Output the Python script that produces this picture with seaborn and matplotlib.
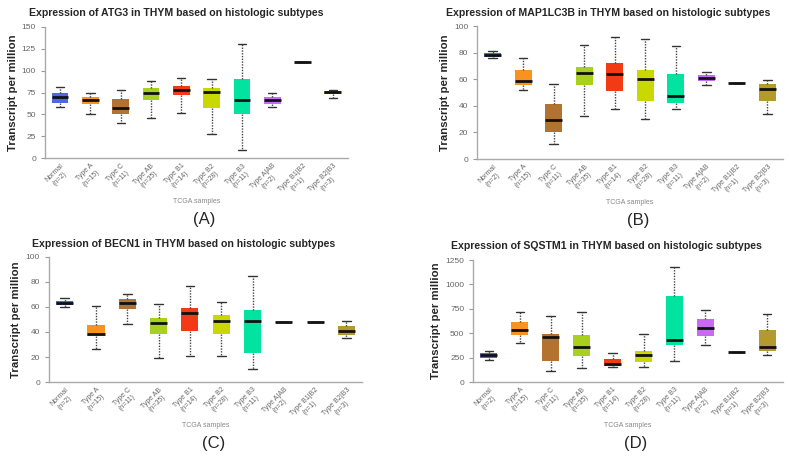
import numpy as np
import pandas as pd
import seaborn as sns
import matplotlib.pyplot as plt

# groups on the x axis
groups = ["Normal", "Type A", "Type C", "Type AB", "Type B1", "Type B2",
          "Type B3", "Type A|AB", "Type B1|B2", "Type B2|B3"]
counts = [2, 15, 11, 35, 14, 28, 11, 2, 1, 3]

# five-number summaries: min, q1, median, q3, max
atg3 = [[58, 63, 70, 75, 81], [51, 62, 67, 70, 74], [40, 50, 57, 68, 78],
        [46, 66, 74, 80, 88], [52, 72, 78, 82, 92], [28, 57, 76, 80, 91],
        [9, 50, 66, 91, 130], [59, 62, 66, 70, 74], [110],
        [69, 73, 75.5, 77, 78]]
map1lc3b = [[76, 77, 78.5, 79.5, 81], [52, 56, 58.5, 67, 76],
            [11, 20, 29, 41.5, 56.5], [32, 56, 64.5, 69.5, 85.5],
            [38, 51.5, 64, 72, 92], [30, 43.5, 60.5, 67, 90],
            [38, 42, 47.5, 64, 85], [56, 59, 61, 63.5, 65.5], [57.5],
            [34, 43.5, 52.5, 56.5, 59.5]]
becn1 = [[60, 61.5, 63, 65, 67], [26, 36.5, 38.5, 45.5, 61],
         [46, 58.5, 63, 66, 70], [19, 38.5, 47.5, 51, 62],
         [21, 40.5, 55, 59, 77], [21, 38, 49, 53.5, 64],
         [10.5, 23.5, 48.5, 57.5, 85], [48], [48],
         [35, 37.5, 40.5, 45, 49]]
sqstm1 = [[222, 246, 275, 302, 323], [405, 487, 535, 613, 718],
          [116, 215, 462, 494, 680], [143, 268, 364, 477, 714],
          [150, 162, 187, 235, 300], [150, 204, 282, 320, 492],
          [215, 381, 432, 881, 1177], [375, 467, 557, 644, 740], [312],
          [279, 320, 360, 531, 702]]

colors = ["#5166e3", "#f7931e", "#b3722f", "#a7d11d", "#f23b15",
          "#c9d800", "#03e3a0", "#c86af4", "#999999", "#b29a2d"]

# gene, data, y range, y ticks, letter, axes rect, title centre (px)
panels = [
    ("ATG3", atg3, (0, 150), [0, 25, 50, 75, 100, 125, 150], "(A)",
     [0.057, 0.654, 0.384, 0.287], (176, 13)),
    ("MAP1LC3B", map1lc3b, (0, 100), [0, 20, 40, 60, 80, 100], "(B)",
     [0.605, 0.652, 0.387, 0.291], (608, 13)),
    ("BECN1", becn1, (0, 100), [0, 20, 40, 60, 80, 100], "(C)",
     [0.062, 0.164, 0.397, 0.274], (184, 244)),
    ("SQSTM1", sqstm1, (0, 1250), [0, 250, 500, 750, 1000, 1250], "(D)",
     [0.600, 0.164, 0.392, 0.267], (606, 246)),
]

sns.set_style("white")
plt.rcParams['font.family'] = ['Liberation Sans', 'DejaVu Sans']

fig = plt.figure(figsize=(7.89, 4.57), dpi=100)
labels = [f"{g}\n(n={n})" for g, n in zip(groups, counts)]

for gene, stats, ylim, yticks, letter, pos, tpos in panels:
    ax = fig.add_axes(pos)
    rows = []
    for g, vals in zip(groups, stats):
        for v in vals:
            rows.append({"group": g, "tpm": v})
    df = pd.DataFrame(rows)
    sns.boxplot(data=df, x="group", y="tpm", hue="group", order=groups,
                hue_order=groups, palette=colors, saturation=1,
                whis=(0, 100), width=0.55,
                linecolor="black", linewidth=1, fliersize=0, legend=False,
                ax=ax,
                boxprops=dict(edgecolor="none"),
                whiskerprops=dict(linestyle=(0, (1, 1)), color="#444444"),
                capprops=dict(color="#333333"),
                medianprops=dict(color="#111111", linewidth=2))
    ax.set_xlim(-0.5, 9.5)
    ax.set_ylim(*ylim)
    ax.set_yticks(yticks)
    ax.set_xticks(range(len(groups)))
    ax.set_xticklabels(labels, rotation=45, ha="right", rotation_mode="anchor",
                       fontsize=5, color="#666666", multialignment="center")
    ax.tick_params(axis="y", labelsize=6, labelcolor="#666666", length=3,
                   color="#999999", left=True)
    ax.tick_params(axis="x", length=0, pad=3)
    for s in ["top", "right"]:
        ax.spines[s].set_visible(False)
    for s in ["left", "bottom"]:
        ax.spines[s].set_color("#aaaaaa")
        ax.spines[s].set_linewidth(1)
    ax.set_xlabel("")
    ax.set_ylabel("Transcript per million", fontsize=8.2, fontweight="bold",
                  family=["Liberation Sans Narrow", "Liberation Sans"],
                  labelpad=3)
    fig.text(tpos[0] / 789, 1 - tpos[1] / 457,
             f"Expression of {gene} in THYM based on histologic subtypes",
             fontsize=7.6, fontweight="bold", ha="center", va="center")
    cx = pos[0] + pos[2] / 2
    fig.text(cx, pos[1] - 0.095, "TCGA samples", ha="center", va="center",
             fontsize=5, color="#888888")
    fig.text(cx + 0.01, pos[1] - 0.135, letter, ha="center", va="center",
             fontsize=12)

fig.savefig("out.png", dpi=100)
